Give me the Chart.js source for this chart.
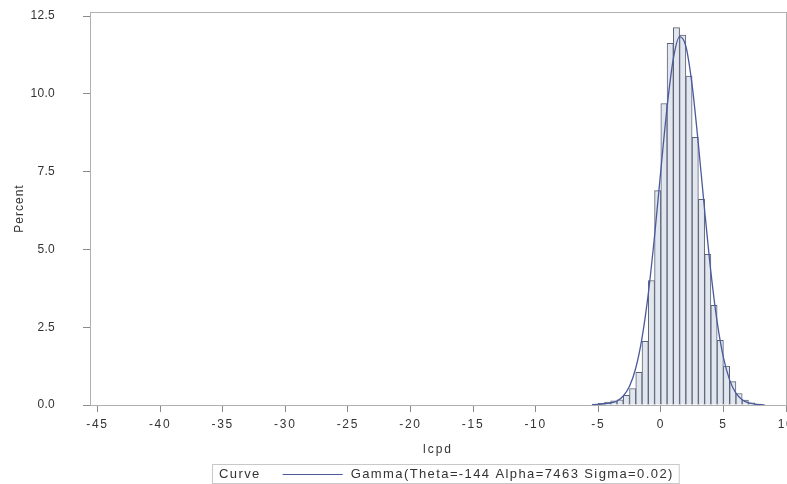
<!DOCTYPE html>
<html>
<head>
<meta charset="utf-8">
<script src="https://cdn.jsdelivr.net/npm/chart.js@4.4.1/dist/chart.umd.min.js"></script>
<style>
  html, body { margin: 0; padding: 0; background: #fff; overflow: hidden; }
  #wrap { width: 810px; height: 484px; }
</style>
</head>
<body>
<div id="wrap"><canvas id="histChart" width="810" height="484"></canvas></div>
<script>
    'use strict';

    // Histogram bins (centre of each 0.5-wide bin) and percent heights
    var binCenters = [-5.25, -4.75, -4.25, -3.75, -3.25, -2.75, -2.25, -1.75, -1.25, -0.75,
                      -0.25, 0.25, 0.75, 1.25, 1.75, 2.25, 2.75, 3.25, 3.75, 4.25,
                      4.75, 5.25, 5.75, 6.25, 6.75, 7.25, 7.75];
    var binPercent = [0.03, 0.05, 0.09, 0.13, 0.17, 0.31, 0.53, 1.05, 2.05, 4.0,
                      6.89, 9.69, 11.62, 12.13, 11.89, 10.57, 8.6, 6.61, 4.84, 3.2,
                      2.08, 1.25, 0.75, 0.37, 0.16, 0.07, 0.03];

    // Fitted gamma curve
    var curveX = [-5.5, -5, -4.5, -4, -3.5, -3, -2.5, -2, -1.5, -1, -0.5, 0, 0.5, 1, 1.5,
                  2, 2.5, 3, 3.5, 4, 4.5, 5, 5.5, 6, 6.5, 7, 7.5, 8, 8.3];
    var curveY = [0.01, 0.02, 0.04, 0.07, 0.13, 0.29, 0.6, 1.19, 2.16, 3.58, 5.43, 7.54, 9.57, 11.13, 11.84,
                  11.53, 10.28, 8.38, 6.26, 4.27, 2.67, 1.53, 0.8, 0.38, 0.17, 0.07, 0.03, 0.01, 0.0];

    var xTicks = [-45, -40, -35, -30, -25, -20, -15, -10, -5, 0, 5, 10];
    var yTicks = [0, 2.5, 5, 7.5, 10, 12.5];

    var curveLabel = 'Gamma(Theta=-144 Alpha=7463 Sigma=0.02)';
    var curveColor = '#4a5a9c';
    var axisColor = '#8a8a8a';
    var textColor = '#333333';
    var fontFamily = '"Liberation Sans", Arial, sans-serif';

    var histData = binCenters.map(function (x, i) { return { x: x, y: binPercent[i] }; });
    var curveData = curveX.map(function (x, i) { return { x: x, y: curveY[i] }; });

    // wrap a scale's label/title drawing so the text gets some letter spacing
    function spaced(labelSp, titleSp) {
        return function (axis) {
            if (axis._spaced) { return; }
            axis._spaced = true;
            var origLabels = axis.drawLabels, origTitle = axis.drawTitle;
            axis.drawLabels = function (ca) {
                this.ctx.letterSpacing = labelSp;
                origLabels.call(this, ca);
                this.ctx.letterSpacing = '0px';
            };
            axis.drawTitle = function (ca) {
                this.ctx.letterSpacing = titleSp;
                origTitle.call(this, ca);
                this.ctx.letterSpacing = '0px';
            };
        };
    }

    // frame around the plot area
    var framePlugin = {
        id: 'frame',
        afterDatasetsDraw: function (chart) {
            var a = chart.chartArea, ctx = chart.ctx;
            ctx.save();
            ctx.strokeStyle = '#b0b0b0';
            ctx.lineWidth = 1;
            ctx.strokeRect(a.left + 0.5, a.top + 0.5, a.right - a.left, a.bottom - a.top);
            ctx.restore();
        }
    };

    // SAS-style boxed legend under the x axis title
    var legendPlugin = {
        id: 'boxLegend',
        afterDraw: function (chart) {
            var ctx = chart.ctx, a = chart.chartArea;
            ctx.save();
            ctx.font = '13px ' + fontFamily;
            ctx.letterSpacing = '1.4px';
            var w1 = ctx.measureText('Curve').width;
            var w2 = ctx.measureText(curveLabel).width;
            var lineLen = 60;
            var total = 7 + w1 + 22 + lineLen + 8 + w2 + 5;
            var left = Math.round((a.left + a.right) / 2 + 7 - total / 2);
            var top = 464;
            ctx.strokeStyle = '#c8c8c8';
            ctx.lineWidth = 1;
            ctx.strokeRect(left + 0.5, top + 0.5, total, 19);
            ctx.fillStyle = textColor;
            ctx.textBaseline = 'middle';
            ctx.fillText('Curve', left + 7, top + 10);
            var lx = left + 7 + w1 + 22;
            ctx.strokeStyle = curveColor;
            ctx.beginPath();
            ctx.moveTo(lx, top + 10.5);
            ctx.lineTo(lx + lineLen, top + 10.5);
            ctx.stroke();
            ctx.fillText(curveLabel, lx + lineLen + 8, top + 10);
            ctx.restore();
        }
    };

    var HISTCHART = document.getElementById('histChart');
    var histChart = new Chart(HISTCHART, {
        type: 'bar',
        data: {
            datasets: [
                {
                    type: 'line',
                    label: curveLabel,
                    data: curveData,
                    borderColor: curveColor,
                    borderWidth: 1.3,
                    pointRadius: 0,
                    fill: false,
                    tension: 0.4,
                    cubicInterpolationMode: 'monotone',
                    order: 0
                },
                {
                    label: 'lcpd',
                    data: histData,
                    backgroundColor: '#e1e6ef',
                    borderColor: '#5d6475',
                    borderWidth: 1,
                    barPercentage: 1.0,
                    categoryPercentage: 1.0,
                    order: 1
                }
            ]
        },
        options: {
            responsive: false,
            animation: false,
            layout: {
                padding: { top: 12, right: 24, bottom: 27, left: 0 }
            },
            plugins: {
                legend: { display: false },
                tooltip: { enabled: false }
            },
            scales: {
                x: {
                    type: 'linear',
                    offset: false,
                    min: -45.6,
                    max: 10,
                    afterBuildTicks: function (axis) {
                        axis.ticks = xTicks.map(function (v) { return { value: v }; });
                    },
                    afterFit: function (axis) { axis.height = 52; },
                    afterUpdate: spaced('1.7px', '2px'),
                    grid: { offset: false, drawOnChartArea: false, drawTicks: true, tickLength: 7, color: axisColor },
                    border: { display: true, color: axisColor },
                    ticks: {
                        padding: 5,
                        color: textColor,
                        font: { family: fontFamily, size: 12 },
                        maxRotation: 0,
                        autoSkip: false
                    },
                    title: {
                        display: true,
                        text: 'lcpd',
                        color: textColor,
                        font: { family: fontFamily, size: 12 },
                        padding: { top: 0, bottom: 0 }
                    }
                },
                y: {
                    min: 0,
                    max: 12.63,
                    afterBuildTicks: function (axis) {
                        axis.ticks = yTicks.map(function (v) { return { value: v }; });
                    },
                    afterFit: function (axis) {
                        axis.width = 90;
                        axis.paddingTop = 0;
                        axis.paddingBottom = 0;
                    },
                    afterUpdate: spaced('0.3px', '1px'),
                    grid: { drawOnChartArea: false, drawTicks: true, tickLength: 7, color: axisColor },
                    border: { display: true, color: axisColor },
                    ticks: {
                        padding: 28,
                        color: textColor,
                        font: { family: fontFamily, size: 12 },
                        callback: function (v) { return Number(v).toFixed(1); }
                    },
                    title: {
                        display: true,
                        text: 'Percent',
                        color: textColor,
                        font: { family: fontFamily, size: 12 },
                        padding: { top: 12, bottom: 0 }
                    }
                }
            }
        },
        plugins: [framePlugin, legendPlugin]
    });
</script>
</body>
</html>
